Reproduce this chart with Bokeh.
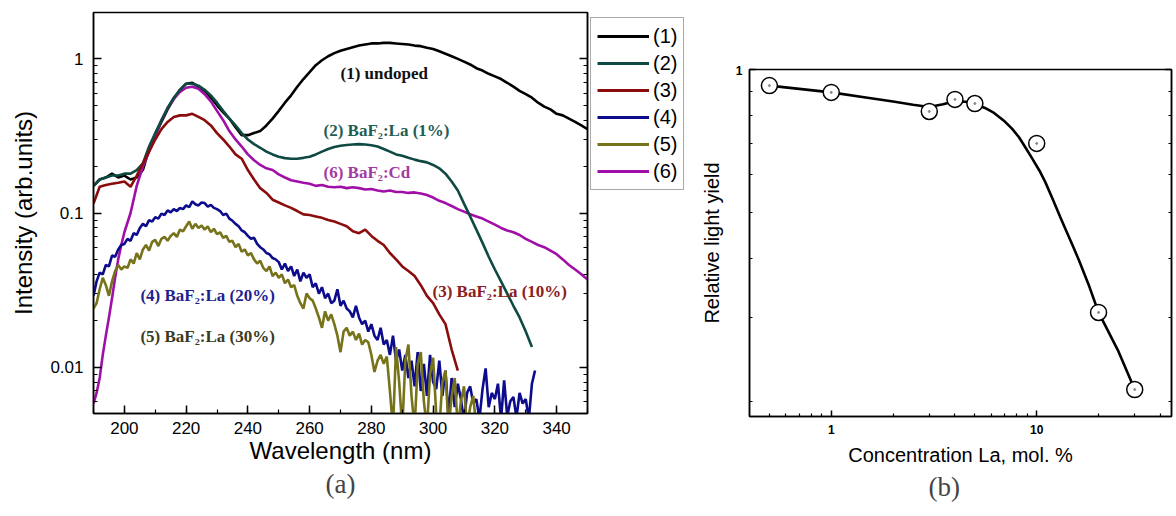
from bokeh.plotting import figure
from bokeh.models import (FixedTicker, SingleIntervalTicker, LogAxis, Legend, LegendItem,
                          Label, Title, CustomJSTickFormatter, Range1d, Spacer)
from bokeh.layouts import row, column
from bokeh.embed import file_html
from bokeh.resources import INLINE

# ---------------- data: panel (a) luminescence spectra ----------------
wl1 = list(range(190, 351, 2))
int1 = [0.15, 0.165, 0.17, 0.18, 0.17, 0.175, 0.165, 0.17, 0.19, 0.26,
        0.32, 0.39, 0.47, 0.55, 0.63, 0.69, 0.70, 0.66, 0.62, 0.56,
        0.50, 0.45, 0.41, 0.36, 0.32, 0.32, 0.33, 0.34, 0.37, 0.41,
        0.46, 0.52, 0.58, 0.66, 0.74, 0.82, 0.91, 0.98, 1.04, 1.09,
        1.13, 1.16, 1.19, 1.22, 1.24, 1.26, 1.26, 1.27, 1.27, 1.26,
        1.25, 1.24, 1.22, 1.21, 1.18, 1.16, 1.12, 1.08, 1.04, 1.00,
        0.96, 0.92, 0.87, 0.84, 0.80, 0.77, 0.74, 0.70, 0.66, 0.62,
        0.59, 0.56, 0.52, 0.49, 0.47, 0.44, 0.43, 0.41, 0.39, 0.37,
        0.35]

wl2 = list(range(190, 334, 2))
int2 = [0.15, 0.165, 0.17, 0.175, 0.175, 0.18, 0.18, 0.19, 0.21, 0.27,
        0.33, 0.40, 0.48, 0.56, 0.63, 0.69, 0.69, 0.67, 0.63, 0.58,
        0.52, 0.46, 0.41, 0.37, 0.33, 0.30, 0.28, 0.265, 0.25, 0.24,
        0.232, 0.227, 0.225, 0.225, 0.228, 0.232, 0.24, 0.25, 0.26, 0.268,
        0.273, 0.276, 0.278, 0.28, 0.278, 0.275, 0.27, 0.26, 0.25, 0.24,
        0.235, 0.228, 0.222, 0.217, 0.213, 0.205, 0.195, 0.18, 0.16, 0.14,
        0.115, 0.095, 0.078, 0.064, 0.052, 0.043, 0.036, 0.03, 0.025, 0.021,
        0.017, 0.0135]

wl3 = list(range(190, 309, 2))
int3 = [0.115, 0.148, 0.152, 0.155, 0.157, 0.16, 0.148, 0.175, 0.21, 0.25,
        0.30, 0.35, 0.39, 0.42, 0.43, 0.43, 0.44, 0.42, 0.40, 0.37,
        0.33, 0.30, 0.27, 0.24, 0.225, 0.19, 0.165, 0.145, 0.135, 0.122,
        0.117, 0.112, 0.108, 0.103, 0.098, 0.097, 0.095, 0.093, 0.09, 0.088,
        0.085, 0.082, 0.076, 0.074, 0.078, 0.071, 0.066, 0.062, 0.055, 0.05,
        0.045, 0.042, 0.039, 0.034, 0.029, 0.026, 0.022, 0.019, 0.013, 0.0095]

wl4 = list(range(190, 334))
int4 = [0.029, 0.036, 0.041, 0.04, 0.046, 0.045, 0.053, 0.052, 0.058, 0.062,
        0.063, 0.068, 0.066, 0.074, 0.072, 0.08, 0.085, 0.082, 0.09, 0.088,
        0.094, 0.092, 0.099, 0.097, 0.104, 0.101, 0.106, 0.103, 0.108, 0.106,
        0.112, 0.109, 0.119, 0.114, 0.112, 0.117, 0.116, 0.11, 0.113, 0.108,
        0.106, 0.103, 0.097, 0.099, 0.092, 0.089, 0.085, 0.082, 0.077, 0.075,
        0.071, 0.068, 0.069, 0.063, 0.06, 0.058, 0.055, 0.054, 0.051, 0.05,
        0.048, 0.043, 0.047, 0.042, 0.045, 0.039, 0.043, 0.036, 0.041, 0.038,
        0.04, 0.033, 0.035, 0.03, 0.033, 0.028, 0.03, 0.026, 0.027, 0.032,
        0.025, 0.027, 0.024, 0.023, 0.021, 0.025, 0.021, 0.019, 0.02, 0.017,
        0.019, 0.016, 0.015, 0.018, 0.014, 0.015, 0.012, 0.016, 0.011, 0.013,
        0.0095, 0.012, 0.0085, 0.011, 0.0075, 0.0125, 0.007, 0.0105, 0.0065, 0.012,
        0.008, 0.0072, 0.011, 0.0065, 0.0095, 0.0048, 0.0085, 0.0055, 0.0078, 0.0062,
        0.0045, 0.0068, 0.0075, 0.0058, 0.0062, 0.0046, 0.0072, 0.0098, 0.0055, 0.0068,
        0.0062, 0.0078, 0.0046, 0.0082, 0.0048, 0.006, 0.0064, 0.0047, 0.0068, 0.0058,
        0.0062, 0.0046, 0.0078, 0.0095]

wl5 = list(range(190, 315))
int5 = [0.024, 0.026, 0.032, 0.038, 0.034, 0.029, 0.036, 0.042, 0.046, 0.043,
        0.045, 0.044, 0.05, 0.047, 0.055, 0.05, 0.058, 0.062, 0.057, 0.065,
        0.067, 0.061, 0.068, 0.07, 0.066, 0.071, 0.074, 0.07, 0.078, 0.076,
        0.082, 0.088, 0.079, 0.085, 0.08, 0.083, 0.078, 0.082, 0.075, 0.079,
        0.073, 0.075, 0.069, 0.071, 0.065, 0.066, 0.06, 0.063, 0.056, 0.058,
        0.053, 0.055, 0.05, 0.047, 0.049, 0.044, 0.042, 0.045, 0.039, 0.041,
        0.038, 0.04, 0.035, 0.037, 0.033, 0.034, 0.029, 0.026, 0.024, 0.03,
        0.028, 0.027, 0.024, 0.021, 0.018, 0.023, 0.02, 0.022, 0.019, 0.016,
        0.0125, 0.017, 0.018, 0.016, 0.017, 0.015, 0.0165, 0.014, 0.015, 0.0145,
        0.012, 0.0093, 0.011, 0.012, 0.0105, 0.0117, 0.007, 0.004, 0.0135, 0.008,
        0.004, 0.011, 0.014, 0.0065, 0.004, 0.0105, 0.0125, 0.006, 0.004, 0.009,
        0.0115, 0.005, 0.004, 0.008, 0.0095, 0.004, 0.0065, 0.0085, 0.004, 0.006,
        0.0075, 0.004, 0.0055, 0.0065, 0.004]

wl6 = [190, 191, 192, 193, 194, 195, 196, 197, 198, 199, 200] + list(range(202, 351, 2))
int6 = [0.0058, 0.0068, 0.0085, 0.012, 0.016, 0.021, 0.028, 0.038, 0.05, 0.062, 0.075,
        0.10, 0.15, 0.20, 0.25, 0.32, 0.40, 0.48, 0.55, 0.61, 0.65,
        0.66, 0.64, 0.59, 0.53, 0.46, 0.40, 0.34, 0.30, 0.27, 0.24,
        0.22, 0.205, 0.195, 0.19, 0.178, 0.17, 0.163, 0.16, 0.157, 0.155,
        0.15, 0.152, 0.148, 0.147, 0.148, 0.145, 0.147, 0.145, 0.142, 0.143,
        0.14, 0.138, 0.14, 0.137, 0.137, 0.135, 0.136, 0.134, 0.131, 0.126,
        0.12, 0.116, 0.111, 0.106, 0.102, 0.098, 0.095, 0.092, 0.088, 0.084,
        0.08, 0.077, 0.075, 0.072, 0.068, 0.065, 0.062, 0.06, 0.057, 0.054,
        0.05, 0.046, 0.043, 0.04, 0.037]

series_labels = ["(1)", "(2)", "(3)", "(4)", "(5)", "(6)"]
series_colors = ["#000000", "#0f4a42", "#8b0c0c", "#0c0c8c", "#77731a", "#a010a8"]

ann_text = ["(1) undoped", "(2) BaF\u2082:La (1%)", "(6) BaF\u2082:Cd",
            "(3) BaF\u2082:La (10%)", "(4) BaF\u2082:La (20%)", "(5) BaF\u2082:La (30%)"]
ann_x = [270.0, 264.5, 264.5, 299.8, 205.2, 205.2]
ann_y = [0.80, 0.343, 0.184, 0.031, 0.029, 0.0159]
ann_color = ["#111111", "#1f5e55", "#a33aa3", "#8b2020", "#1f1f8f", "#3b3b1f"]

# ---------------- data: panel (b) relative light yield ----------------
conc = [0.5, 1, 3, 4, 5, 10, 20, 30]
light_yield = [0.925, 0.895, 0.816, 0.865, 0.848, 0.699, 0.308, 0.212]
fit_x = [0.5, 1, 1.5, 2, 2.5, 3, 3.5, 4, 4.5, 5, 5.6, 6.2, 7, 7.6, 8.2, 8.8, 9.5,
         10.3, 11, 12, 13, 14, 15, 16, 18, 20, 25, 30]
fit_y = [0.925, 0.895, 0.872, 0.856, 0.843, 0.834, 0.845, 0.857, 0.855, 0.846, 0.83, 0.81,
         0.777, 0.75, 0.72, 0.686, 0.65, 0.613, 0.58, 0.532, 0.49, 0.455, 0.425, 0.398,
         0.35, 0.308, 0.255, 0.212]

SANS = "Liberation Sans"
SERIF = "Liberation Serif"

fmt = CustomJSTickFormatter(code="return String(tick);")
blank = CustomJSTickFormatter(code="return '';")


def style_axis(ax, major_in=8, minor_in=4):
    ax.major_tick_in = major_in
    ax.major_tick_out = 0
    ax.minor_tick_in = minor_in
    ax.minor_tick_out = 0
    ax.axis_line_width = 1.5
    ax.major_tick_line_width = 1.5
    ax.minor_tick_line_width = 1.2
    ax.axis_label_text_font = SANS
    ax.axis_label_text_font_style = "normal"
    ax.major_label_text_font = SANS
    ax.major_label_text_color = "black"
    ax.axis_label_text_color = "black"


# ---------------- panel (a) ----------------
p1 = figure(width=590, height=514, x_range=Range1d(190, 350), y_range=Range1d(0.005, 2.0),
            y_axis_type="log", output_backend="svg", toolbar_location=None,
            min_border_left=93, min_border_top=12, min_border_bottom=101, min_border_right=3)
p1.grid.visible = False
p1.outline_line_color = "black"
p1.outline_line_width = 1.5
p1.outline_line_alpha = 1

ylog_minor = [m * 10.0 ** e for e in (-3, -2, -1, 0) for m in range(2, 10)]
yticker1 = FixedTicker(ticks=[0.01, 0.1, 1], minor_ticks=ylog_minor)
p1.yaxis.ticker = yticker1
p1.yaxis.formatter = fmt
p1.xaxis.ticker = SingleIntervalTicker(interval=20, num_minor_ticks=2)
for ax in (p1.xaxis[0], p1.yaxis[0]):
    style_axis(ax)
    ax.major_label_text_font_size = "17px"
    ax.axis_label_text_font_size = "24px"
p1.xaxis.axis_label = "Wavelength (nm)"
p1.yaxis.axis_label = "Intensity (arb.units)"
p1.xaxis.major_label_standoff = 8
p1.xaxis.axis_label_standoff = 0
p1.yaxis.major_label_standoff = 10
p1.yaxis.axis_label_standoff = 10

rax1 = LogAxis(ticker=yticker1, formatter=blank, major_label_standoff=0,
               major_label_text_font_size="1px")
style_axis(rax1)
p1.add_layout(rax1, "right")

wls = [wl1, wl2, wl3, wl4, wl5, wl6]
ints = [int1, int2, int3, int4, int5, int6]
for i in [0, 5, 1, 2, 3, 4]:
    p1.line(wls[i], ints[i], line_color=series_colors[i], line_width=2.6)

for t, x, y, c in zip(ann_text, ann_x, ann_y, ann_color):
    p1.add_layout(Label(x=x, y=y, text=t, text_color=c, text_font=SERIF,
                        text_font_size="17px", text_font_style="bold",
                        text_baseline="middle", text_align="left"))

p1.add_layout(Title(text="(a)", align="center", text_font=SERIF, text_font_size="27px",
                    text_font_style="normal", standoff=0), "below")

# ---------------- legend panel (outside the frame of (a)) ----------------
pl = figure(width=100, height=180, x_range=Range1d(0, 1), y_range=Range1d(0, 1),
            x_axis_location=None, y_axis_location=None, toolbar_location=None,
            output_backend="svg", min_border=0, outline_line_color=None)
pl.grid.visible = False
leg_items = []
for i in range(6):
    # legend swatches only: these lines lie outside the (0, 1) view of this small panel
    r = pl.line([5, 6], [5, 6], line_color=series_colors[i], line_width=2.8)
    leg_items.append(LegendItem(label=series_labels[i], renderers=[r]))
legend = Legend(items=leg_items, location="top_left", margin=0, padding=6, spacing=3,
                glyph_width=52, glyph_height=24, label_height=24, label_standoff=4,
                label_text_font=SANS, label_text_font_size="20px", label_text_color="black",
                border_line_color="#555555", border_line_width=1)
pl.add_layout(legend)

# ---------------- panel (b) ----------------
p2 = figure(width=484, height=449, x_axis_type="log", y_axis_type="log",
            x_range=Range1d(0.4, 45.3), y_range=Range1d(0.186, 1.0),
            output_backend="svg", toolbar_location=None,
            min_border_left=59, min_border_top=4, min_border_bottom=98, min_border_right=3)
p2.grid.visible = False
p2.outline_line_color = "black"
p2.outline_line_width = 1.5
p2.outline_line_alpha = 1

xticker2 = FixedTicker(ticks=[1, 10], minor_ticks=[0.5, 0.6, 0.7, 0.8, 0.9, 2, 3, 4, 5, 6, 7, 8, 9, 20, 30, 40])
yticker2 = FixedTicker(ticks=[1], minor_ticks=[0.2, 0.3, 0.4, 0.5, 0.6, 0.7, 0.8, 0.9])
p2.xaxis.ticker = xticker2
p2.yaxis.ticker = yticker2
p2.xaxis.formatter = fmt
p2.yaxis.formatter = fmt
for ax in (p2.xaxis[0], p2.yaxis[0]):
    style_axis(ax, major_in=6, minor_in=3)
    ax.major_label_text_font_size = "12px"
    ax.major_label_text_font_style = "bold"
    ax.axis_label_text_font_size = "20px"
p2.xaxis.axis_label = "Concentration La, mol. %"
p2.yaxis.axis_label = "Relative light yield"
p2.xaxis.major_label_standoff = 8
p2.xaxis.axis_label_standoff = 7
p2.yaxis.major_label_standoff = 7
p2.yaxis.axis_label_standoff = 10

rax2 = LogAxis(ticker=yticker2, formatter=blank, major_label_standoff=0,
               major_label_text_font_size="1px")
style_axis(rax2, major_in=6, minor_in=3)
p2.add_layout(rax2, "right")

p2.line(fit_x, fit_y, line_color="black", line_width=2.6)
p2.scatter(conc, light_yield, size=16, fill_color="white", line_color="black", line_width=1.5)
p2.scatter(conc, light_yield, size=2, fill_color="#888888", line_color="#888888")

p2.add_layout(Title(text="(b)", align="left", offset=179, text_font=SERIF, text_font_size="27px",
                    text_font_style="normal", standoff=2), "below")

layout = row(p1,
             column(Spacer(height=17, width=100), pl),
             column(Spacer(height=65, width=484), p2))
open("out.html", "w").write(file_html(layout, INLINE))
